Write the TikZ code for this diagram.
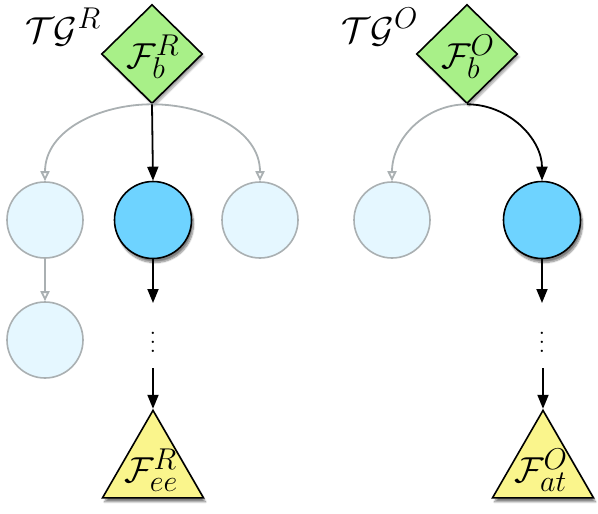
\documentclass[tikz,border=0pt]{standalone}
\usepackage{graphicx}
\usetikzlibrary{shapes.geometric,arrows.meta,shadows,shadows.blur}
\definecolor{dgreen}{RGB}{168,240,136}
\definecolor{lblue}{RGB}{229,247,255}
\definecolor{dblue}{RGB}{110,211,255}
\definecolor{yel}{RGB}{250,245,140}
\definecolor{gline}{RGB}{170,176,178}
\newcommand\bigmath[1]{\scalebox{1.45}{$#1$}}
\tikzset{
  rootbox/.style={diamond,draw=black,line width=1.6pt,fill=dgreen,minimum width=101pt,minimum height=99pt,inner sep=0pt,
    font=\fontsize{24.88}{30}\selectfont,
    blur shadow={shadow xshift=2pt,shadow yshift=-3pt,shadow blur steps=6,shadow opacity=35}},
  lightnode/.style={circle,draw=gline,line width=1.6pt,fill=lblue,minimum size=76pt,inner sep=0pt},
  darknode/.style={circle,draw=black,line width=1.6pt,fill=dblue,minimum size=77pt,inner sep=0pt,
    blur shadow={shadow xshift=2pt,shadow yshift=-4pt,shadow blur steps=8,shadow opacity=50}},
  leafbox/.style={regular polygon,regular polygon sides=3,draw=black,line width=1.6pt,fill=yel,minimum size=116.6pt,inner sep=0pt,
    blur shadow={shadow xshift=2pt,shadow yshift=-4pt,shadow blur steps=8,shadow opacity=50}},
  title/.style={font=\fontsize{24.88}{30}\selectfont,inner sep=0pt},
  lab/.style={font=\fontsize{24.88}{30}\selectfont,inner sep=0pt},
  dotsbox/.style={inner sep=0pt},
  blackarr/.style={-{Triangle[length=14pt,width=11pt]},line width=1.8pt,black},
  grayarr/.style={-{Triangle[open,length=10pt,width=9pt]},line width=1.8pt,gline},
}
\begin{document}
\begin{tikzpicture}[x=1pt,y=-1pt]
\useasboundingbox (0,0) rectangle (598,514);
% titles
\node[title] (tgr) at (63,27) {\bigmath{\mathcal{T}\mathcal{G}^R}};
\node[title] (tgo) at (380,27) {\bigmath{\mathcal{T}\mathcal{G}^O}};
% left tree
\node[rootbox] (dr) at (152,54) {};
\node[lab] (drl) at (153,57) {\bigmath{\mathcal{F}_b^R}};
\node[lightnode] (c1) at (45,220) {};
\node[darknode] (c2) at (153,220) {};
\node[lightnode] (c3) at (260,220) {};
\node[lightnode] (c4) at (45,340) {};
\node[leafbox] (tr) at (153,468.7) {};
\node[lab] (trl) at (151,470) {\bigmath{\mathcal{F}_{ee}^R}};
\coordinate (ar1) at (153,303);
\node[dotsbox] (dotsr) at (153,336) {\scalebox{2.2}{$\vdots$}};
\coordinate (ar2) at (153,368);
\draw[grayarr] (dr.south) to[out=180,in=90] (c1.north);
\draw[grayarr] (dr.south) to[out=0,in=90] (c3.north);
\draw[blackarr] (dr.south) -- (c2.north);
\draw[grayarr] (c1.south) -- (c4.north);
\draw[blackarr] (c2.south) -- (ar1);
\draw[blackarr] (ar2) -- (tr.north);
% right tree
\node[rootbox] (do) at (467,54) {};
\node[lab] (dol) at (468,57) {\bigmath{\mathcal{F}_b^O}};
\node[lightnode] (c5) at (392,220) {};
\node[darknode] (c6) at (542,220) {};
\node[leafbox] (to) at (543,468.7) {};
\node[lab] (tol) at (541,470) {\bigmath{\mathcal{F}_{at}^O}};
\coordinate (ar3) at (542,303);
\node[dotsbox] (dotso) at (542,336) {\scalebox{2.2}{$\vdots$}};
\coordinate (ar4) at (543,368);
\draw[grayarr] (do.south) to[out=180,in=90] (c5.north);
\draw[blackarr] (do.south) to[out=0,in=90] (c6.north);
\draw[blackarr] (c6.south) -- (ar3);
\draw[blackarr] (ar4) -- (to.north);
\end{tikzpicture}
\end{document}
